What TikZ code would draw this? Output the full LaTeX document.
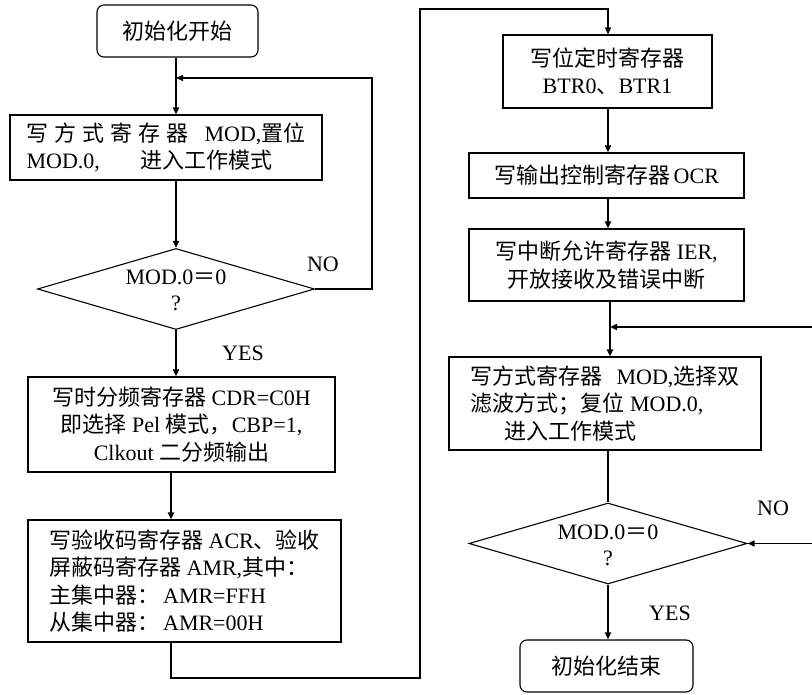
\documentclass[tikz,border=0pt]{standalone}
\usepackage{fontspec}
\setmainfont{Liberation Serif}
\newfontfamily\cjk{Noto Sans CJK SC}
\usetikzlibrary{shapes.geometric,arrows.meta}
\newcommand\zh[1]{{\cjk #1}}
\tikzset{
  box/.style={draw, line width=1.1pt, inner sep=0pt, font=\fontsize{22}{27.5}\selectfont},
  term/.style={box, rounded corners=7pt},
  dec/.style={draw, diamond, line width=1.1pt, inner sep=0pt},
  dtext/.style={align=center, inner sep=0pt, font=\fontsize{22}{26}\selectfont},
  arr/.style={line width=2.2pt, -{Triangle[length=7pt,width=6pt]}},
  thinarr/.style={line width=1.4pt, -{Triangle[length=7pt,width=6pt]}},
  ln/.style={line width=1.4pt},
  lbl/.style={inner sep=0pt, font=\fontsize{22}{26}\selectfont},
}
\begin{document}
\begin{tikzpicture}[x=1pt,y=-1pt]
\useasboundingbox (0,0) rectangle (812,695);

% left column
\node[term, minimum width=161pt, minimum height=52pt] (start) at (177.5,31) {\zh{初始化开始}};
\node[box, minimum width=312pt, minimum height=65pt, align=left] (b2) at (166,147.5)
  {\zh{写\hspace{6pt}方\hspace{6pt}式\hspace{6pt}寄\hspace{6pt}存\hspace{6pt}器}\hspace{16pt}MOD,\zh{置位}\\
   MOD.0,\hspace{41pt}\zh{进入工作模式}};
\node[dec, minimum width=277pt, minimum height=81pt] (d1) at (176,289) {};
\node[dtext] (d1t) at (176,290) {MOD.0\zh{＝}0\\?};
\node[box, minimum width=307pt, minimum height=95pt, align=center] (b3) at (181.5,424.5)
  {\zh{写时分频寄存器} CDR=C0H\\
   \zh{即选择} Pel \zh{模式，}CBP=1,\\
   Clkout \zh{二分频输出}};
\node[box, minimum width=313pt, minimum height=122pt, align=left] (b4) at (184.5,581)
  {\zh{写验收码寄存器} ACR\zh{、验收}\\
   \zh{屏蔽码寄存器} AMR,\zh{其中：}\\
   \zh{主集中器：}\hspace{4pt}AMR=FFH\\
   \zh{从集中器：}\hspace{4pt}AMR=00H};

% right column
\node[box, minimum width=209pt, minimum height=73pt, align=center] (b5) at (607.5,71.5)
  {\zh{写位定时寄存器}\\BTR0\zh{、}BTR1};
\node[box, minimum width=275pt, minimum height=45pt] (b6) at (606.5,175.5)
  {\zh{写输出控制寄存器}\,OCR};
\node[box, minimum width=275pt, minimum height=72pt, align=center] (b7) at (606.5,265)
  {\zh{写中断允许寄存器} IER,\\\zh{开放接收及错误中断}};
\node[box, minimum width=312pt, minimum height=93pt, align=left] (b8) at (605,403.5)
  {\zh{写方式寄存器}\hspace{14pt}MOD,\zh{选择双}\\
   \zh{滤波方式；复位} MOD.0,\\
   \hspace{34pt}\zh{进入工作模式}};
\node[dec, minimum width=278pt, minimum height=81pt] (d2) at (608,543.5) {};
\node[dtext] (d2t) at (608,545) {MOD.0\zh{＝}0\\?};
\node[term, minimum width=173pt, minimum height=52pt] (end) at (606.5,666) {\zh{初始化结束}};

% labels
\node[lbl] (no1) at (323,264) {NO};
\node[lbl] (yes1) at (243,353) {YES};
\node[lbl] (no2) at (773,508) {NO};
\node[lbl] (yes2) at (670,613) {YES};

% coordinates
\coordinate (cl) at (176,0);
\coordinate (cr) at (608,0);
\coordinate (j1) at (176,78);
\coordinate (lx) at (372,78);
\coordinate (c1) at (171,678);
\coordinate (c2) at (420,678);
\coordinate (c3) at (420,9);
\coordinate (c4) at (608,9);
\coordinate (j2) at (610,327);
\coordinate (e1) at (812,327);
\coordinate (e2) at (812,543.5);

% left connectors
\draw[arr] (start.south -| cl) -- (b2.north -| cl);
\draw[arr] (b2.south -| cl) -- (d1.north);
\draw[arr] (d1.south) -- (b3.north -| cl);
\draw[arr] (b3.south -| c1) -- (b4.north -| c1);
\draw[thinarr] (d1.east) -| (lx) -- (j1);
\draw[thinarr] (b4.south -| c1) -- (c1) -- (c2) -- (c3) -- (c4) -- (b5.north -| cr);

% right connectors
\draw[arr] (b5.south -| cr) -- (b6.north -| cr);
\draw[arr] (b6.south -| cr) -- (b7.north -| cr);
\draw[arr] (b7.south -| j2) -- (b8.north -| j2);
\draw[arr] (e1) -- (j2);
\draw[ln] (b8.south -| cr) -- (d2.north);
\draw[arr] (d2.south) -- (end.north -| cr);
\draw[thinarr] (e2) -- (d2.east);
\end{tikzpicture}
\end{document}
